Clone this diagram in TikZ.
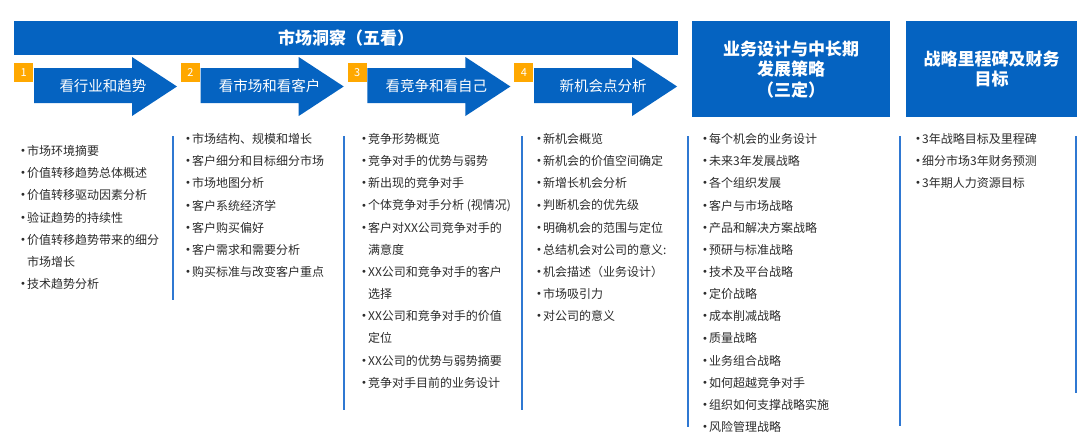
\documentclass[tikz,border=0pt]{standalone}
\usepackage{fontspec}
\setmainfont{Noto Sans CJK SC}
\newfontfamily\puntofont{DejaVu Sans}
\usepackage{xcolor}
\usepackage{tikz}
\definecolor{azul}{HTML}{0563C1}
\definecolor{naranja}{HTML}{FFA800}
\definecolor{linea}{HTML}{2F78D2}
\definecolor{texto}{HTML}{2B2B2B}
% Viñeta y sangría de las listas
\newcommand{\pto}{\makebox[7pt][l]{\raisebox{0.9pt}{\puntofont\fontsize{10}{10}\selectfont •}}}
\newcommand{\sgr}{\hspace*{7pt}}

\begin{document}
\begin{tikzpicture}[x=1pt,y=-1pt,
    caja/.style={fill=azul, text=white, font=\bfseries\fontsize{17}{20.5}\selectfont, align=center, inner sep=0pt, anchor=north west},
    flecha/.style={fill=azul},
    etiqueta/.style={text=white, font=\fontsize{14.5}{16}\selectfont, inner sep=0pt},
    numero/.style={fill=naranja, text=white, font=\fontsize{11}{11}\selectfont, minimum size=19pt, inner sep=0pt, anchor=north west},
    lista/.style={anchor=north west, align=left, text=texto, font=\fontsize{12}{22.15}\selectfont, inner sep=0pt},
    separador/.style={draw=linea, line width=2pt}]
        % Marco de la imagen
        \useasboundingbox (0,0) rectangle (1080,442);

        % Cabecera y cajas de la derecha
        \node[caja, minimum width=664pt, minimum height=34pt] (mercado) at (14,21) {市场洞察（五看）};
        \node[caja, minimum width=198pt, minimum height=96pt] (diseno) at (692,21) {业务设计与中长期\\发展策略\\（三定）};
        \node[caja, minimum width=171pt, minimum height=96pt] (hitos) at (906,21) {战略里程碑及财务\\目标};

        % Flechas de los cuatro pasos con su número
        \foreach \txt [count=\n] in {看行业和趋势, 看市场和看客户, 看竞争和看自己, 新机会点分析} {
            \pgfmathsetmacro{\xa}{34+(\n-1)*166.7}
            \fill[flecha] (\xa,68) -- ++(98,0) -- ++(0,-11) -- (\xa+143,86.5) -- (\xa+98,116) -- ++(0,-13) -- (\xa,103) -- cycle;
            \node[etiqueta] (paso\n) at (\xa+69,86) {\txt};
            \node[numero] (num\n) at (\xa-20,63) {\n};
        }

        % Separadores verticales
        \foreach \xs/\yb in {173/300, 344/410, 522/410, 688/427, 900/426, 1076/393} {
            \draw[separador] (\xs,136) -- (\xs,\yb);
        }

        % Listas de cada columna
        \node[lista] (lista1) at (20,145.2) {\pto 市场环境摘要\\ \pto 价值转移趋势总体概述\\ \pto 价值转移驱动因素分析\\ \pto 验证趋势的持续性\\ \pto 价值转移趋势带来的细分\\ \sgr 市场增长\\ \pto 技术趋势分析};
        \node[lista] (lista2) at (185,133.2) {\pto 市场结构、规模和增长\\ \pto 客户细分和目标细分市场\\ \pto 市场地图分析\\ \pto 客户系统经济学\\ \pto 客户购买偏好\\ \pto 客户需求和需要分析\\ \pto 购买标准与改变客户重点};
        \node[lista] (lista3) at (361,133.2) {\pto 竞争形势概览\\ \pto 竞争对手的优势与弱势\\ \pto 新出现的竞争对手\\ \pto 个体竞争对手分析 (视情况)\\ \pto 客户对XX公司竞争对手的\\ \sgr 满意度\\ \pto XX公司和竞争对手的客户\\ \sgr 选择\\ \pto XX公司和竞争对手的价值\\ \sgr 定位\\ \pto XX公司的优势与弱势摘要\\ \pto 竞争对手目前的业务设计};
        \node[lista] (lista4) at (536,133.2) {\pto 新机会概览\\ \pto 新机会的价值空间确定\\ \pto 新增长机会分析\\ \pto 判断机会的优先级\\ \pto 明确机会的范围与定位\\ \pto 总结机会对公司的意义:\\ \pto 机会描述（业务设计）\\ \pto 市场吸引力\\ \pto 对公司的意义};
        \node[lista] (lista5) at (702,133.2) {\pto 每个机会的业务设计\\ \pto 未来3年发展战略\\ \pto 各个组织发展\\ \pto 客户与市场战略\\ \pto 产品和解决方案战略\\ \pto 预研与标准战略\\ \pto 技术及平台战略\\ \pto 定价战略\\ \pto 成本削减战略\\ \pto 质量战略\\ \pto 业务组合战略\\ \pto 如何超越竞争对手\\ \pto 组织如何支撑战略实施\\ \pto 风险管理战略};
        \node[lista] (lista6) at (915,133.2) {\pto 3年战略目标及里程碑\\ \pto 细分市场3年财务预测\\ \pto 3年期人力资源目标};
\end{tikzpicture}
\end{document}
